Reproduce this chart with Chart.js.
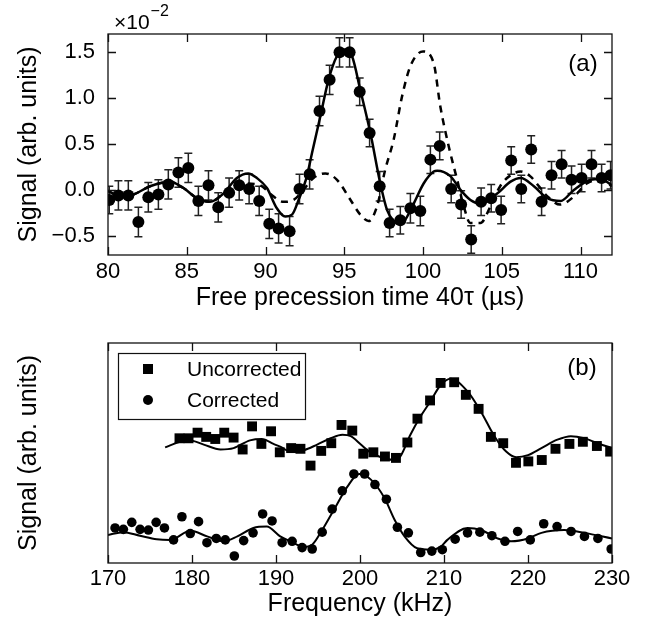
<!DOCTYPE html>
<html>
<head>
<meta charset="utf-8">
<script src="https://cdn.jsdelivr.net/npm/chart.js@4.4.1/dist/chart.umd.min.js"></script>
<style>
  html, body { margin: 0; padding: 0; background: #fff; }
  #wrap { position: relative; width: 665px; height: 627px; }
  canvas { position: absolute; left: 0; }
</style>
</head>
<body>
<div id="wrap">
  <canvas id="chartA" width="665" height="315" style="top:0"></canvas>
  <canvas id="chartB" width="665" height="312" style="top:315px"></canvas>
</div>
<script>
// ---- panel (a): echo signal vs free precession time (units of 1e-2) ----
const timeA = [80.08, 80.66, 81.29, 81.93, 82.56, 83.2, 83.83, 84.47, 85.1, 85.74, 86.38, 87.0, 87.69,
  88.33, 88.96, 89.6, 90.24, 90.83, 91.53, 92.16, 92.8, 93.43, 94.07, 94.7, 95.34, 95.98, 96.61, 97.25,
  97.88, 98.56, 99.2, 99.83, 100.47, 101.06, 101.79, 102.42, 103.06, 103.69, 104.33, 104.96, 105.6,
  106.24, 106.87, 107.53, 108.16, 108.8, 109.43, 110.07, 110.7, 111.34, 111.91];
const signalA = [-0.11, -0.06, -0.06, -0.35, -0.08, -0.05, 0.06, 0.19, 0.24, -0.12, 0.05, -0.19, -0.03,
  0.05, 0.01, -0.12, -0.37, -0.42, -0.45, 0.01, 0.17, 0.86, 1.20, 1.50, 1.50, 1.07, 0.62, 0.04,
  -0.36, -0.33, -0.20, -0.23, 0.33, 0.48, 0.01, -0.16, -0.54, -0.13, -0.09, -0.22, 0.32,
  0.01, 0.44, -0.13, 0.16, 0.28, 0.11, 0.13, 0.28, 0.13, 0.16];
const errA = [0.15, 0.16, 0.16, 0.16, 0.16, 0.16, 0.16, 0.16, 0.16, 0.16, 0.16, 0.16, 0.16,
  0.16, 0.16, 0.16, 0.16, 0.16, 0.16, 0.16, 0.16, 0.16, 0.16, 0.16, 0.16, 0.15, 0.15, 0.16,
  0.15, 0.15, 0.16, 0.16, 0.15, 0.15, 0.15, 0.15, 0.15, 0.15, 0.15, 0.15, 0.15,
  0.15, 0.15, 0.15, 0.15, 0.15, 0.15, 0.15, 0.15, 0.15, 0.15];

// solid fit
const fitTimeA = [80.0, 80.76, 81.61, 82.67, 83.94, 84.79, 85.64, 86.48, 87.33, 88.18, 88.9, 89.45, 90.09,
  90.72, 91.25, 91.68, 92.1, 92.63, 92.95, 93.48, 94.0, 94.54, 95.0, 95.49, 96.02, 96.66, 97.29, 97.72,
  98.14, 98.5, 98.77, 99.41, 100.04, 100.68, 100.9, 101.74, 102.38, 103.01, 103.65, 104.71, 105.56,
  106.2, 107.04, 107.89, 108.74, 109.58, 110.64, 111.28, 112.0];
const fitA = [-0.01, -0.07, -0.05, 0.04, 0.09, 0.02, -0.09, -0.13, -0.04, 0.13, 0.18, 0.13, 0.02,
  -0.2, -0.29, -0.27, -0.11, 0.15, 0.40, 0.80, 1.20, 1.46, 1.53, 1.46, 1.09, 0.62, 0.07, -0.22,
  -0.34, -0.37, -0.35, -0.15, 0.07, 0.20, 0.21, 0.15, 0.0, -0.11, -0.15, -0.04, 0.09,
  0.13, 0.04, -0.09, -0.12, 0.0, 0.11, 0.12, 0.05];

// dashed curve
const refTimeA = [80.0, 80.76, 81.61, 82.67, 83.94, 84.79, 85.64, 86.48, 87.33, 88.2, 88.9, 89.66, 90.5,
  91.14, 91.78, 92.31, 93.05, 93.8, 94.54, 95.4, 96.02, 96.55, 97.08, 97.6, 98.14, 98.67, 99.2, 100.0,
  100.68, 101.1, 101.64, 102.17, 102.59, 103.0, 103.65, 104.28, 104.9, 105.56, 106.2, 106.8, 107.9,
  108.7, 109.6, 110.4, 111.3, 112.0];
const refA = [-0.01, -0.07, -0.05, 0.04, 0.09, 0.02, -0.09, -0.13, -0.04, 0.08, 0.07, 0.05, -0.07,
  -0.13, -0.11, -0.02, 0.13, 0.18, 0.11, -0.11, -0.27, -0.34, -0.18, 0.22, 0.55, 1.02, 1.35, 1.51,
  1.38, 0.91, 0.47, 0.11, -0.18, -0.36, -0.36, -0.18, 0.04, 0.16, 0.20, 0.15, -0.07,
  -0.16, -0.07, 0.07, 0.11, 0.04];

const xTicksA = [80, 85, 90, 95, 100, 105, 110];
const yTicksA = [-0.5, 0.0, 0.5, 1.0, 1.5];

// ---- panel (b): spectra (arbitrary units) ----
const freqUncorr = [178.51, 179.59, 180.66, 181.69, 182.77, 183.84, 184.95, 186.03, 187.15, 188.26, 189.41,
  190.45, 191.8, 192.91, 194.11, 195.38, 196.58, 197.8, 199.08, 200.39, 201.59, 202.97, 204.28, 205.64,
  206.84, 208.34, 209.6, 211.21, 212.6, 214.12, 215.58, 217.05, 218.57, 220.04, 221.64, 223.27, 224.93,
  226.53, 228.2, 229.78];
const sigUncorr = [1.45, 1.45, 1.53, 1.47, 1.44, 1.53, 1.46, 1.29, 1.62, 1.37, 1.55,
  1.25, 1.31, 1.30, 1.06, 1.27, 1.38, 1.64, 1.56, 1.23, 1.25, 1.19, 1.17, 1.39,
  1.73, 1.99, 2.24, 2.25, 2.07, 1.87, 1.47, 1.38, 1.10, 1.12, 1.14, 1.30, 1.37,
  1.40, 1.34, 1.26];
const fitFreqUncorr = [176.8, 178.6, 179.8, 181.4, 183.4, 184.95, 186.9, 188.3, 189.7, 190.5, 191.7, 193.3,
  194.9, 196.5, 197.9, 198.9, 200.1, 201.1, 202.5, 204.2, 204.8, 206.0, 207.2, 208.4, 209.6, 210.8,
  212.8, 214.4, 216.0, 217.4, 218.6, 220.0, 221.6, 223.5, 225.1, 226.7, 228.3, 230.0];
const fitUncorr = [1.32, 1.40, 1.42, 1.36, 1.29, 1.31, 1.42, 1.44, 1.37, 1.33, 1.26, 1.28,
  1.36, 1.45, 1.50, 1.48, 1.36, 1.26, 1.18, 1.14, 1.19, 1.50, 1.76, 1.98, 2.21, 2.30,
  2.12, 1.83, 1.48, 1.26, 1.18, 1.21, 1.31, 1.43, 1.48, 1.45, 1.38, 1.31];

const freqCorr = [170.84, 171.83, 172.83, 173.82, 174.81, 175.73, 176.72, 177.8, 178.8, 179.79, 180.78,
  181.78, 182.89, 183.96, 185.04, 186.15, 187.27, 188.41, 189.53, 190.73, 191.92, 193.11, 194.31, 195.5,
  196.69, 197.89, 199.27, 200.55, 201.78, 203.14, 204.45, 205.76, 207.23, 208.55, 209.8, 211.33, 212.8,
  214.27, 215.7, 217.26, 218.77, 220.27, 221.87, 223.46, 225.13, 226.72, 228.32, 229.9];
const sigCorr = [0.17, 0.15, 0.25, 0.15, 0.14, 0.25, 0.17, 0.0, 0.33, 0.09, 0.26,
  -0.04, 0.02, 0.0, -0.23, -0.01, 0.10, 0.37, 0.27, -0.04, -0.02, -0.11, -0.13, 0.11,
  0.44, 0.70, 0.94, 0.94, 0.79, 0.58, 0.18, 0.10, -0.18, -0.16, -0.14, 0.01, 0.10,
  0.11, 0.06, -0.02, 0.12, 0.0, 0.23, 0.19, 0.12, 0.05, 0.02, -0.13];
const fitFreqCorr = [170.0, 171.8, 173.8, 175.8, 177.4, 179.8, 181.8, 183.8, 185.4, 187.3, 188.9, 190.5,
  191.7, 193.3, 194.3, 195.3, 196.9, 198.5, 199.9, 201.3, 202.9, 204.1, 205.3, 206.8, 208.4, 209.6,
  210.4, 212.8, 214.4, 216.4, 218.0, 220.0, 221.6, 224.3, 226.7, 230.0];
const fitCorr = [0.07, 0.11, 0.06, 0.01, 0.0, 0.13, 0.05, -0.02, 0.05, 0.17, 0.19, 0.05,
  -0.02, -0.10, -0.07, 0.10, 0.43, 0.76, 0.94, 0.86, 0.60, 0.29, 0.05, -0.12, -0.14, -0.10,
  0.0, 0.17, 0.14, 0.02, -0.02, 0.02, 0.10, 0.14, 0.10, 0.02];

const xTicksB = [170, 180, 190, 200, 210, 220, 230];
const legendB = ['Uncorrected', 'Corrected'];

// ---- helpers ----
const FONT = "'Liberation Sans', Arial, sans-serif";
Chart.defaults.font.family = FONT;
Chart.defaults.color = '#000';

function toPoints(xs, ys) {
  return xs.map((x, i) => ({ x: x, y: ys[i] }));
}

// frame around the plot area with inward ticks on all sides
const frameTicks = {
  id: 'frameTicks',
  afterDraw(chart, args, opts) {
    const { ctx, chartArea: a, scales } = chart;
    const len = 8;
    ctx.save();
    ctx.strokeStyle = '#111';
    ctx.lineWidth = 1.3;
    ctx.strokeRect(a.left, a.top, a.right - a.left, a.bottom - a.top);
    ctx.beginPath();
    (opts.xTicks || []).forEach(v => {
      const px = Math.round(scales.x.getPixelForValue(v)) + 0.5;
      ctx.moveTo(px, a.bottom); ctx.lineTo(px, a.bottom - len);
      ctx.moveTo(px, a.top); ctx.lineTo(px, a.top + len);
    });
    (opts.yTicks || []).forEach(v => {
      const py = Math.round(scales.y.getPixelForValue(v)) + 0.5;
      ctx.moveTo(a.left, py); ctx.lineTo(a.left + len, py);
      ctx.moveTo(a.right, py); ctx.lineTo(a.right - len, py);
    });
    ctx.stroke();
    ctx.restore();
  }
};

// vertical error bars with caps, drawn under the markers
const errorBars = {
  id: 'errorBars',
  beforeDatasetsDraw(chart, args, opts) {
    if (!opts.xs) return;
    const { ctx, chartArea: a, scales: { x, y } } = chart;
    ctx.save();
    ctx.beginPath();
    ctx.rect(a.left, a.top, a.right - a.left, a.bottom - a.top);
    ctx.clip();
    ctx.strokeStyle = '#222';
    ctx.lineWidth = 1.5;
    ctx.beginPath();
    opts.xs.forEach((t, i) => {
      const px = x.getPixelForValue(t);
      const hi = y.getPixelForValue(opts.ys[i] + opts.err[i]);
      const lo = y.getPixelForValue(opts.ys[i] - opts.err[i]);
      ctx.moveTo(px, hi); ctx.lineTo(px, lo);
      ctx.moveTo(px - 4, hi); ctx.lineTo(px + 4, hi);
      ctx.moveTo(px - 4, lo); ctx.lineTo(px + 4, lo);
    });
    ctx.stroke();
    ctx.restore();
  }
};

// panel labels, exponent and legend box
const annotations = {
  id: 'annotations',
  afterDraw(chart, args, opts) {
    const ctx = chart.ctx;
    ctx.save();
    ctx.fillStyle = '#000';
    ctx.textBaseline = 'middle';
    ctx.font = '24px ' + FONT;
    ctx.textAlign = 'center';
    ctx.fillText(opts.panel, opts.panelX, opts.panelY);
    ctx.textAlign = 'left';
    if (opts.exponent) {
      ctx.font = '21px ' + FONT;
      ctx.fillText('×10', 114, 23);
      const w = ctx.measureText('×10').width;
      ctx.font = '16px ' + FONT;
      ctx.fillText('−2', 114 + w + 1, 12);
    }
    if (opts.legend) {
      ctx.strokeStyle = '#111';
      ctx.lineWidth = 1.2;
      ctx.strokeRect(118.5, 38.5, 187, 66);
      ctx.fillRect(143, 49, 10, 10);
      ctx.beginPath();
      ctx.arc(148, 85, 5, 0, Math.PI * 2);
      ctx.fill();
      ctx.font = '21px ' + FONT;
      ctx.fillText(opts.legend[0], 187, 55);
      ctx.fillText(opts.legend[1], 187, 86);
    }
    ctx.restore();
  }
};

const fmtTick = v => (v < 0 ? '−' : '') + Math.abs(v).toFixed(1);

// ---- chart (a) ----
new Chart(document.getElementById('chartA'), {
  type: 'scatter',
  data: {
    datasets: [
      {
        data: toPoints(timeA, signalA),
        pointRadius: 6,
        pointBackgroundColor: '#000',
        pointBorderWidth: 0,
        showLine: false,
        clip: 0
      },
      {
        data: toPoints(fitTimeA, fitA),
        showLine: true,
        borderColor: '#000',
        borderWidth: 2.5,
        pointRadius: 0,
        cubicInterpolationMode: 'monotone',
        clip: 0
      },
      {
        data: toPoints(refTimeA, refA),
        showLine: true,
        borderColor: '#000',
        borderWidth: 2.5,
        borderDash: [7, 6],
        pointRadius: 0,
        cubicInterpolationMode: 'monotone',
        clip: 0
      }
    ]
  },
  options: {
    responsive: false,
    devicePixelRatio: 1,
    animation: false,
    layout: { padding: { left: 0, right: 53, top: 34, bottom: 0 } },
    scales: {
      x: {
        type: 'linear',
        min: 80,
        max: 112,
        grid: { display: false, drawTicks: false },
        border: { display: false },
        afterBuildTicks: s => { s.ticks = xTicksA.map(v => ({ value: v })); },
        afterFit: s => { s.height = 60; },
        ticks: { font: { size: 22 }, padding: 4, maxRotation: 0 },
        title: {
          display: true,
          text: 'Free precession time 40τ (µs)',
          font: { size: 25 },
          padding: { top: 0, bottom: 2 }
        }
      },
      y: {
        min: -0.71,
        max: 1.70,
        grid: { display: false, drawTicks: false },
        border: { display: false },
        afterBuildTicks: s => { s.ticks = yTicksA.map(v => ({ value: v })); },
        afterFit: s => { s.width = 108; },
        ticks: { font: { size: 22 }, padding: 13, callback: fmtTick },
        title: {
          display: true,
          text: 'Signal (arb. units)',
          font: { size: 25 },
          padding: { top: 14, bottom: 0 }
        }
      }
    },
    plugins: {
      legend: { display: false },
      tooltip: { enabled: false },
      frameTicks: { xTicks: xTicksA, yTicks: yTicksA },
      errorBars: { xs: timeA, ys: signalA, err: errA },
      annotations: { panel: '(a)', panelX: 583, panelY: 64, exponent: true }
    }
  },
  plugins: [frameTicks, errorBars, annotations]
});

// ---- chart (b) ----
new Chart(document.getElementById('chartB'), {
  type: 'scatter',
  data: {
    datasets: [
      {
        label: legendB[0],
        data: toPoints(freqUncorr, sigUncorr),
        pointStyle: 'rect',
        pointRadius: 7,
        pointBackgroundColor: '#000',
        pointBorderWidth: 0,
        showLine: false,
        clip: 0
      },
      {
        label: legendB[1],
        data: toPoints(freqCorr, sigCorr),
        pointRadius: 4.8,
        pointBackgroundColor: '#000',
        pointBorderWidth: 0,
        showLine: false,
        clip: 0
      },
      {
        data: toPoints(fitFreqUncorr, fitUncorr),
        showLine: true,
        borderColor: '#000',
        borderWidth: 2,
        pointRadius: 0,
        cubicInterpolationMode: 'monotone',
        clip: 0
      },
      {
        data: toPoints(fitFreqCorr, fitCorr),
        showLine: true,
        borderColor: '#000',
        borderWidth: 2,
        pointRadius: 0,
        cubicInterpolationMode: 'monotone',
        clip: 0
      }
    ]
  },
  options: {
    responsive: false,
    devicePixelRatio: 1,
    animation: false,
    layout: { padding: { left: 0, right: 53, top: 28, bottom: 0 } },
    scales: {
      x: {
        type: 'linear',
        min: 170,
        max: 230,
        grid: { display: false, drawTicks: false },
        border: { display: false },
        afterBuildTicks: s => { s.ticks = xTicksB.map(v => ({ value: v })); },
        afterFit: s => { s.height = 64; },
        ticks: { font: { size: 22 }, padding: 3, maxRotation: 0 },
        title: {
          display: true,
          text: 'Frequency (kHz)',
          font: { size: 25 },
          padding: { top: 0, bottom: 8 }
        }
      },
      y: {
        min: -0.33,
        max: 2.81,
        grid: { display: false, drawTicks: false },
        border: { display: false },
        afterFit: s => { s.width = 108; },
        ticks: { display: false },
        title: {
          display: true,
          text: 'Signal (arb. units)',
          font: { size: 25 },
          padding: { top: 14, bottom: 0 }
        }
      }
    },
    plugins: {
      legend: { display: false },
      tooltip: { enabled: false },
      frameTicks: { xTicks: xTicksB, yTicks: [] },
      annotations: { panel: '(b)', panelX: 582, panelY: 53, legend: legendB }
    }
  },
  plugins: [frameTicks, annotations]
});
</script>
</body>
</html>
